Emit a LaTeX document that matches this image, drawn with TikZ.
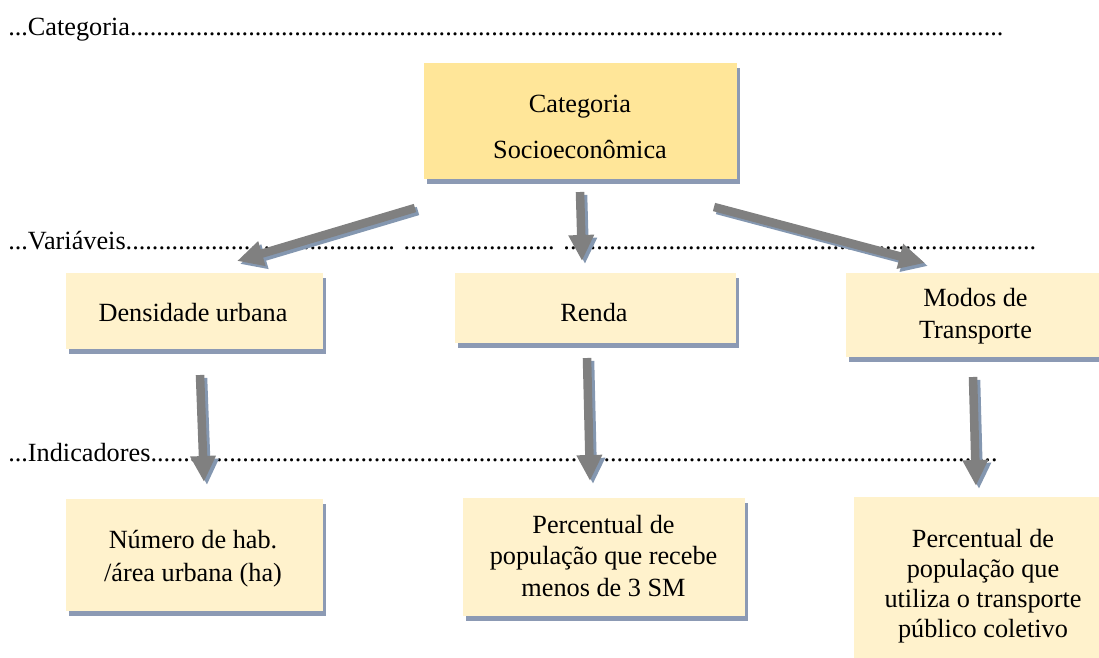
\documentclass[tikz,border=0pt]{standalone}
\usepackage{fontspec}
\setmainfont{Liberation Serif}
\usetikzlibrary{arrows.meta,shadows,calc}

\definecolor{catfill}{RGB}{255,230,153}
\definecolor{boxfill}{RGB}{255,242,204}
\definecolor{boxshadow}{RGB}{140,154,180}
\definecolor{arrowgray}{RGB}{128,128,128}
\definecolor{arrowshadow}{RGB}{132,151,176}

% fixed line height/depth so multi-line labels centre predictably
\newcommand\tstrut{\vrule width 0pt height 0.75em depth 0.25em}
% a run of n typed periods
\ExplSyntaxOn
\cs_new:Npn \dotrow #1 { \prg_replicate:nn {#1} {.} }
\ExplSyntaxOff

\begin{document}
\begin{tikzpicture}[x=0.75pt,y=-0.75pt,
  every node/.style={inner sep=0pt, font=\fontsize{19.7pt}{23.8pt}\selectfont},
  levelline/.style={anchor=base west},
  shadowed/.style={rectangle, draw=none,
    drop shadow={shadow xshift=2.25pt, shadow yshift=-3.75pt, fill=boxshadow, opacity=1}},
  catbox/.style={shadowed, fill=catfill},
  itembox/.style={shadowed, fill=boxfill},
  label/.style={align=center},
  flowarrow/.style={color=arrowgray, line width=6.4pt, -{Triangle[length=19.5pt,width=18pt]}},
  flowshadow/.style={flowarrow, color=arrowshadow}]

\useasboundingbox (0,0) rectangle (1099,657);

% level captions with dotted leaders
\node[levelline] (lvlCat) at (8,35) {...Categoria\dotrow{133}};
\node[levelline] (lvlVar) at (8,249) {...Variáveis\dotrow{41} \dotrow{23} \dotrow{72}};
\node[levelline] (lvlInd) at (8,461) {...Indicadores\dotrow{129}};

% boxes
\node[catbox, minimum width=234.75pt, minimum height=87pt] (cat) at (580.5,121) {};
\node[itembox, minimum width=192.75pt, minimum height=57pt] (dens) at (194.5,311) {};
\node[itembox, minimum width=210.75pt, minimum height=52.5pt] (renda) at (595.5,308) {};
\node[itembox, minimum width=194.25pt, minimum height=63pt] (modos) at (975.5,315) {};
\node[itembox, minimum width=192.75pt, minimum height=84pt] (hab) at (194.5,555) {};
\node[itembox, minimum width=211.5pt, minimum height=88.5pt] (sm) at (604,557) {};
\node[itembox, minimum width=193.5pt, minimum height=123.75pt] (tp) at (983,579.5) {};

% box texts
\node[label, font=\fontsize{19.7pt}{34.5pt}\selectfont] (tcat) at (580,129.4)
  {\tstrut Categoria\\ Socioeconômica\tstrut};
\node[label] (tdens) at (193,315.1) {\tstrut Densidade urbana};
\node[label] (trenda) at (594,315.1) {\tstrut Renda};
\node[label, font=\fontsize{19.7pt}{23.7pt}\selectfont] (tmodos) at (975.5,316)
  {\tstrut Modos de\\ Transporte\tstrut};
\node[label, font=\fontsize{19.7pt}{24.75pt}\selectfont] (thab) at (193,558)
  {\tstrut Número de hab.\\ /área urbana (ha)\tstrut};
\node[label] (tsm) at (603.5,558.4)
  {\tstrut Percentual de\\ população que recebe\\ menos de 3 SM\tstrut};
\node[label, font=\fontsize{19.7pt}{22.7pt}\selectfont] (ttp) at (983,586)
  {\tstrut Percentual de\\ população que\\ utiliza o transporte\\ público coletivo\tstrut};

% arrow end points
\coordinate (a1s) at (415,208); \coordinate (a1e) at (237,261);
\coordinate (a2s) at (580,192); \coordinate (a2e) at (582,261);
\coordinate (a3s) at (714,207); \coordinate (a3e) at (925,263);
\coordinate (a4s) at (200,375); \coordinate (a4e) at (204,482);
\coordinate (a5s) at (587,358); \coordinate (a5e) at (590,481);
\coordinate (a6s) at (973,377); \coordinate (a6e) at (976,486);

% arrow shadows
\foreach \a in {a1,a2,a3,a4,a5,a6}
  \draw[flowshadow] ($(\a s)+(3,3)$) -- ($(\a e)+(3,3)$);
% arrows
\foreach \a in {a1,a2,a3,a4,a5,a6}
  \draw[flowarrow] (\a s) -- (\a e);
\end{tikzpicture}
\end{document}
